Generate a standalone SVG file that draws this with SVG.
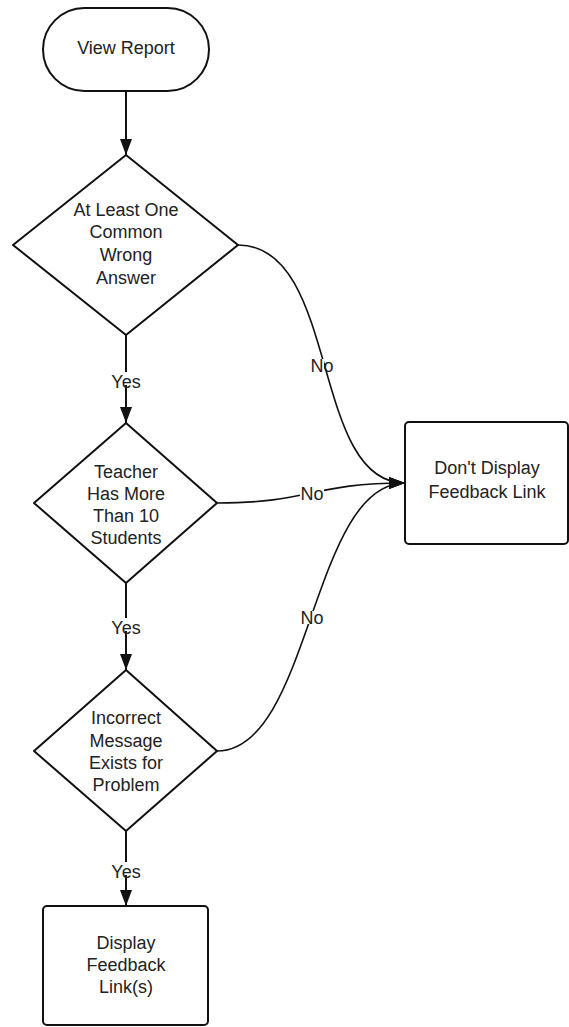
<svg xmlns="http://www.w3.org/2000/svg" width="569" height="1027" viewBox="0 0 569 1027">
<style>
.shape{fill:#fff;stroke:#111;stroke-width:2;stroke-linejoin:round}
.t{font-family:"Liberation Sans",Arial,sans-serif;font-size:18px;fill:#222;text-anchor:middle}
.conn{fill:none;stroke:#111;stroke-width:2}
.curve{fill:none;stroke:#111;stroke-width:1.6}
.lblbg{fill:#fff}
</style>
<defs>
<marker id="arr" markerUnits="userSpaceOnUse" markerWidth="16" markerHeight="12" refX="16" refY="6" orient="auto">
<path d="M0,0 L16,6 L0,12 Z" fill="#111"/>
</marker>
</defs>
<rect width="569" height="1027" fill="#fff"/>
<g id="connectors">
<path class="conn" d="M126,91 L126,155" marker-end="url(#arr)"/>
<path class="conn" d="M126,335 L126,423" marker-end="url(#arr)"/>
<path class="conn" d="M126,583 L126,670" marker-end="url(#arr)"/>
<path class="conn" d="M126,831 L126,906" marker-end="url(#arr)"/>
<path class="curve" d="M238,245 C340,245 310,483 405,483" marker-end="url(#arr)"/>
<path class="curve" d="M217,503 C311,503 311,483 405,483" marker-end="url(#arr)"/>
<path class="curve" d="M217,751 C311,751 311,483 405,483" marker-end="url(#arr)"/>
<rect class="lblbg" x="110" y="372" width="32" height="13"/>
<text class="t" x="126" y="388">Yes</text>
<rect class="lblbg" x="110" y="618" width="32" height="13"/>
<text class="t" x="126" y="634">Yes</text>
<rect class="lblbg" x="110" y="862" width="32" height="13"/>
<text class="t" x="126" y="878">Yes</text>
<rect class="lblbg" x="300" y="359" width="24" height="13"/>
<text class="t" x="322" y="372">No</text>
<rect class="lblbg" x="300" y="487" width="24" height="13"/>
<text class="t" x="312" y="500">No</text>
<rect class="lblbg" x="300" y="611" width="24" height="13"/>
<text class="t" x="312" y="624">No</text>
</g>
<g id="start">
<rect class="shape" x="43" y="8" width="166" height="83" rx="41.5" ry="41.5"/>
<text class="t" x="126" y="54">View Report</text>
</g>
<g id="decision1">
<path class="shape" d="M126,155 L238,245 L126,335 L13,245 Z"/>
<text class="t" x="126" y="216">At Least One</text>
<text class="t" x="126" y="238">Common</text>
<text class="t" x="126" y="261">Wrong</text>
<text class="t" x="126" y="284">Answer</text>
</g>
<g id="decision2">
<path class="shape" d="M126,423 L217,503 L126,583 L34,503 Z"/>
<text class="t" x="126" y="478">Teacher</text>
<text class="t" x="126" y="500">Has More</text>
<text class="t" x="126" y="522">Than 10</text>
<text class="t" x="126" y="544">Students</text>
</g>
<g id="decision3">
<path class="shape" d="M126,670 L217,751 L126,831 L34,751 Z"/>
<text class="t" x="126" y="724">Incorrect</text>
<text class="t" x="126" y="747">Message</text>
<text class="t" x="126" y="769">Exists for</text>
<text class="t" x="126" y="791">Problem</text>
</g>
<g id="nodisplay">
<rect class="shape" x="405" y="422" width="163" height="122" rx="4" ry="4"/>
<text class="t" x="487" y="474">Don't Display</text>
<text class="t" x="487" y="498">Feedback Link</text>
</g>
<g id="display">
<rect class="shape" x="43" y="906" width="165" height="119" rx="4" ry="4"/>
<text class="t" x="126" y="949">Display</text>
<text class="t" x="126" y="971">Feedback</text>
<text class="t" x="126" y="993">Link(s)</text>
</g>
</svg>
